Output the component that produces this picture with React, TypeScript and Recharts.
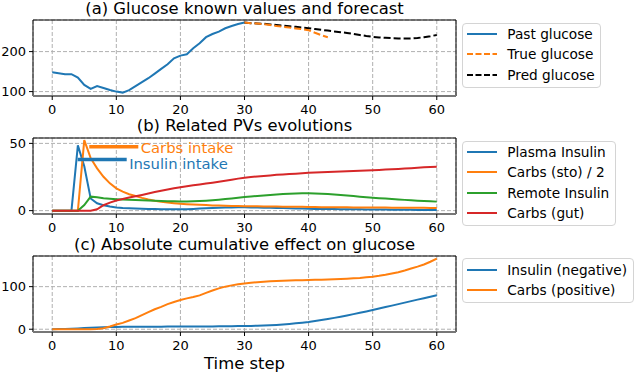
import React from "react";
import { LineChart, Line, XAxis, YAxis, CartesianGrid, ReferenceLine, ReferenceDot } from "recharts";

// ---------- data ----------
const xTicks = [0, 10, 20, 30, 40, 50, 60];
const pastGlucose = [148.5, 146, 143.5, 143.5, 135, 116.7, 106.7, 114, 109, 104, 100, 97.5, 103.5, 113.5, 123.5, 133.5, 145, 156.7, 168.3, 183.3, 190, 193.3, 208.3, 221, 236, 244, 250, 258.3, 264, 269, 272.5];
const trueGlucose = [272.5, 271, 270, 268.5, 266.5, 264, 262, 260, 258, 256, 253.5, 247, 241, 236];
const predGlucose = [272.5, 271, 270.5, 269.5, 268, 266.5, 265, 263.5, 262, 260, 258.5, 256.5, 254.5, 252.5, 250.5, 248.5, 246.5, 244, 241.5, 239, 237, 235.5, 234.5, 233.5, 233, 233, 233, 234, 236, 238.5, 241.5];

const plasmaInsulin = [0, 0, 0, 0, 48.5, 33, 9, 5.5, 4, 3, 2.4, 2, 1.8, 1.6, 1.4, 1.3, 1.2, 1.1, 1.0, 1.0, 1.0, 1.1, 1.3, 1.5, 1.7, 1.9, 2.1, 2.3, 2.4, 2.5, 2.5, 2.4, 2.3, 2.2, 2.1, 2.0, 1.9, 1.8, 1.6, 1.5, 1.4, 1.3, 1.3, 1.2, 1.2, 1.1, 1.1, 1.0, 1.0, 0.9, 0.9, 0.8, 0.8, 0.7, 0.7, 0.6, 0.6, 0.5, 0.5, 0.5, 0.4];
const carbsSto = [0, 0, 0, 0, 0, 52.4, 39, 31.4, 25.2, 20.3, 16.6, 14.1, 12.2, 10.9, 9.5, 8.3, 7.3, 6.6, 6, 5.5, 5.1, 4.8, 4.5, 4.3, 4.1, 3.9, 3.8, 3.6, 3.5, 3.4, 3.3, 3.2, 3.2, 3.1, 3.0, 3.0, 2.9, 2.9, 2.8, 2.8, 2.7, 2.7, 2.6, 2.6, 2.5, 2.5, 2.5, 2.4, 2.4, 2.4, 2.3, 2.3, 2.3, 2.2, 2.2, 2.2, 2.1, 2.1, 2.1, 2.0, 2.0];
const remoteInsulin = [0, 0, 0, 0, 0, 4.2, 10.4, 10, 9.2, 8.8, 8.5, 8.3, 8.1, 7.9, 7.7, 7.5, 7.3, 7.1, 7, 6.9, 6.8, 6.8, 6.9, 7.1, 7.4, 7.7, 8.1, 8.6, 9.1, 9.6, 10.1, 10.5, 10.9, 11.3, 11.7, 12, 12.3, 12.6, 12.8, 12.9, 12.9, 12.8, 12.6, 12.3, 12, 11.6, 11.2, 10.8, 10.4, 10, 9.6, 9.3, 9, 8.6, 8.3, 8, 7.7, 7.4, 7.1, 6.9, 6.7];
const carbsGut = [0, 0, 0, 0, 0, 0, 0, 1, 4, 6, 7.5, 8.7, 9.7, 10.7, 11.7, 12.8, 13.8, 14.8, 15.7, 16.6, 17.4, 18.1, 18.8, 19.5, 20.2, 20.8, 21.5, 22.2, 23, 23.8, 24.5, 25, 25.4, 25.8, 26.2, 26.6, 26.9, 27.2, 27.5, 27.8, 28.1, 28.3, 28.5, 28.7, 28.9, 29.1, 29.3, 29.5, 29.7, 29.9, 30.1, 30.3, 30.5, 30.8, 31.0, 31.3, 31.6, 31.9, 32.2, 32.5, 32.7];

const insulinNeg = [0, 0.3, 0.8, 1.3, 2, 2.8, 3.5, 4, 4.5, 5, 5.5, 5.6, 5.7, 5.8, 5.9, 6, 6.1, 6.1, 6.2, 6.2, 6.3, 6.3, 6.4, 6.5, 6.6, 6.7, 6.8, 7, 7.1, 7.3, 7.5, 7.8, 8.2, 8.7, 9.3, 10, 11, 12.3, 13.8, 15.4, 17, 19.2, 21.5, 24, 26.7, 29.5, 32.5, 35.5, 38.7, 41.8, 45, 48.5, 52, 55.5, 59, 62.5, 66, 69.5, 73, 76.5, 80];
const carbsPos = [0, 0, 0, 0, 0, 0, 0, 0.5, 2.5, 6.5, 11, 15, 20.6, 26, 33, 40, 47, 52.5, 59, 64, 68.5, 72.5, 75.7, 79.5, 85.5, 91, 96, 100, 103, 105.5, 107.5, 109, 110.5, 111.5, 112.5, 113.3, 114, 114.5, 115, 115.3, 115.7, 116, 116.5, 117, 117.5, 118, 118.7, 119.5, 120.5, 122, 123.5, 125.5, 128, 131, 134, 138, 142.5, 147, 152, 158.5, 166];

// annotation anchors (data coords)
const carbsIntakeLine = [{ x: 5.78, y: 47.5 }, { x: 13.43, y: 47.5 }];
const insulinIntakeLine = [{ x: 3.97, y: 38.1 }, { x: 11.62, y: 38.1 }];
const carbsIntakeText = { x: 13.8, y: 43.0, label: "Carbs intake" };
const insulinIntakeText = { x: 12.0, y: 30.9, label: "Insulin intake" };

const C_BLUE = "#1f77b4";
const C_ORANGE = "#ff7f0e";
const C_GREEN = "#2ca02c";
const C_RED = "#d62728";
const FONT = "DejaVu Sans";

const pts = (start: number, vals: number[]) => vals.map((v, i) => ({ t: start + i, v }));

const X_DOMAIN: [number, number] = [-3, 63];
const W = 636;
const MARGIN_RIGHT = 180;
const YW = 33;

const tickStyle = { fill: "#000", fontSize: 13, fontFamily: FONT };

function frameLines(yDomain: [number, number]) {
  return [
    <ReferenceLine key="fl" x={X_DOMAIN[0]} stroke="#000" strokeWidth={1} />,
    <ReferenceLine key="fr" x={X_DOMAIN[1]} stroke="#000" strokeWidth={1} />,
    <ReferenceLine key="ft" y={yDomain[1]} stroke="#000" strokeWidth={1} />,
    <ReferenceLine key="fb" y={yDomain[0]} stroke="#777" strokeWidth={2} />,
  ];
}

function Panel({
  top,
  marginTop,
  height,
  yDomain,
  yTicks,
  children,
}: {
  top: number;
  marginTop: number;
  height: number;
  yDomain: [number, number];
  yTicks: number[];
  children: React.ReactNode;
}) {
  return (
    <div style={{ position: "absolute", left: 0, top, width: W, height }}>
      <LineChart width={W} height={height} margin={{ top: marginTop, right: MARGIN_RIGHT, left: 0, bottom: 0 }}>
        <CartesianGrid stroke="#b0b0b0" strokeDasharray="4 2" strokeWidth={1} />
        <XAxis
          dataKey="t"
          type="number"
          domain={X_DOMAIN}
          ticks={xTicks}
          interval={0}
          height={25}
          axisLine={false}
          tickSize={4}
          tickMargin={5}
          tickLine={{ stroke: "#000" }}
          tick={tickStyle}
          allowDataOverflow
        />
        <YAxis
          type="number"
          domain={yDomain}
          ticks={yTicks}
          width={YW}
          axisLine={false}
          tickSize={4}
          tickMargin={3}
          tickLine={{ stroke: "#000" }}
          tick={tickStyle}
          allowDataOverflow
        />
        {frameLines(yDomain)}
        {children}
      </LineChart>
    </div>
  );
}

type Item = { label: string; color: string; dash?: string };

function LegendBox({ left, top, width, items }: { left: number; top: number; width: number; items: Item[] }) {
  const h = items.length * 20.3 + 4.5;
  return (
    <div
      style={{
        position: "absolute",
        left,
        top,
        width,
        height: h,
        boxSizing: "border-box",
        border: "1px solid #d4d4d4",
        borderRadius: 4,
        background: "#fff",
        fontFamily: FONT,
        fontSize: 13.7,
        color: "#000",
      }}
    >
      {items.map((it, k) => (
        <div key={k} style={{ position: "absolute", left: 0, top: 11.5 + k * 20.3 - 10 - 1, height: 20, width: width - 2 }}>
          <svg width={36} height={20} style={{ position: "absolute", left: 0, top: 0 }}>
            <line x1={4} x2={34} y1={10} y2={10} stroke={it.color} strokeWidth={2} strokeDasharray={it.dash} />
          </svg>
          <span style={{ position: "absolute", left: 44.3, top: 0, lineHeight: "20px", whiteSpace: "nowrap" }}>{it.label}</span>
        </div>
      ))}
    </div>
  );
}

function Title({ top, text, size = 16.4 }: { top: number; text: string; size?: number }) {
  return (
    <div
      style={{
        position: "absolute",
        left: YW,
        width: W - YW - MARGIN_RIGHT,
        top,
        textAlign: "center",
        fontFamily: FONT,
        fontSize: size,
        lineHeight: `${size + 2}px`,
        color: "#000",
        whiteSpace: "nowrap",
      }}
    >
      {text}
    </div>
  );
}

const annText = (color: string, label: string) => (props: any) => (
  <text x={props.cx} y={props.cy} fill={color} fontFamily={FONT} fontSize={14.8}>
    {label}
  </text>
);

export default function App() {
  const yA: [number, number] = [89, 279];
  const yB: [number, number] = [-2.5, 54];
  const yC: [number, number] = [-6.5, 172];
  return (
    <div style={{ position: "absolute", left: 0, top: 0, width: 636, height: 376, background: "#fff", fontFamily: FONT }}>
      <Title top={0} text="(a) Glucose known values and forecast" />
      <Title top={117.4} text="(b) Related PVs evolutions" />
      <Title top={235.8} text="(c) Absolute cumulative effect on glucose" />
      <Title top={355} text="Time step" />

      <Panel top={0} marginTop={20} height={121} yDomain={yA} yTicks={[100, 200]}>
        <Line data={pts(0, pastGlucose)} dataKey="v" stroke={C_BLUE} strokeWidth={2} dot={false} isAnimationActive={false} />
        <Line data={pts(30, predGlucose)} dataKey="v" stroke="#000" strokeWidth={2} strokeDasharray="7 3" dot={false} isAnimationActive={false} />
        <Line data={pts(30, trueGlucose)} dataKey="v" stroke={C_ORANGE} strokeWidth={2} strokeDasharray="7 3" dot={false} isAnimationActive={false} />
      </Panel>

      <Panel top={120} marginTop={18} height={119} yDomain={yB} yTicks={[0, 50]}>
        <Line data={pts(0, plasmaInsulin)} dataKey="v" stroke={C_BLUE} strokeWidth={2} dot={false} isAnimationActive={false} />
        <Line data={pts(0, carbsSto)} dataKey="v" stroke={C_ORANGE} strokeWidth={2} dot={false} isAnimationActive={false} />
        <Line data={pts(0, remoteInsulin)} dataKey="v" stroke={C_GREEN} strokeWidth={2} dot={false} isAnimationActive={false} />
        <Line data={pts(0, carbsGut)} dataKey="v" stroke={C_RED} strokeWidth={2} dot={false} isAnimationActive={false} />
        <ReferenceLine segment={carbsIntakeLine} stroke={C_ORANGE} strokeWidth={3.5} />
        <ReferenceLine segment={insulinIntakeLine} stroke={C_BLUE} strokeWidth={3.5} />
        <ReferenceDot x={carbsIntakeText.x} y={carbsIntakeText.y} r={0} shape={annText(C_ORANGE, carbsIntakeText.label)} />
        <ReferenceDot x={insulinIntakeText.x} y={insulinIntakeText.y} r={0} shape={annText(C_BLUE, insulinIntakeText.label)} />
      </Panel>

      <Panel top={240} marginTop={16} height={117} yDomain={yC} yTicks={[0, 100]}>
        <Line data={pts(0, insulinNeg)} dataKey="v" stroke={C_BLUE} strokeWidth={2} dot={false} isAnimationActive={false} />
        <Line data={pts(0, carbsPos)} dataKey="v" stroke={C_ORANGE} strokeWidth={2} dot={false} isAnimationActive={false} />
      </Panel>

      <LegendBox
        left={462}
        top={22.7}
        width={139}
        items={[
          { label: "Past glucose", color: C_BLUE },
          { label: "True glucose", color: C_ORANGE, dash: "6 2.5" },
          { label: "Pred glucose", color: "#000", dash: "6 2.5" },
        ]}
      />
      <LegendBox
        left={462}
        top={140.7}
        width={154}
        items={[
          { label: "Plasma Insulin", color: C_BLUE },
          { label: "Carbs (sto) / 2", color: C_ORANGE },
          { label: "Remote Insulin", color: C_GREEN },
          { label: "Carbs (gut)", color: C_RED },
        ]}
      />
      <LegendBox
        left={462}
        top={258.3}
        width={172}
        items={[
          { label: "Insulin (negative)", color: C_BLUE },
          { label: "Carbs (positive)", color: C_ORANGE },
        ]}
      />
    </div>
  );
}
